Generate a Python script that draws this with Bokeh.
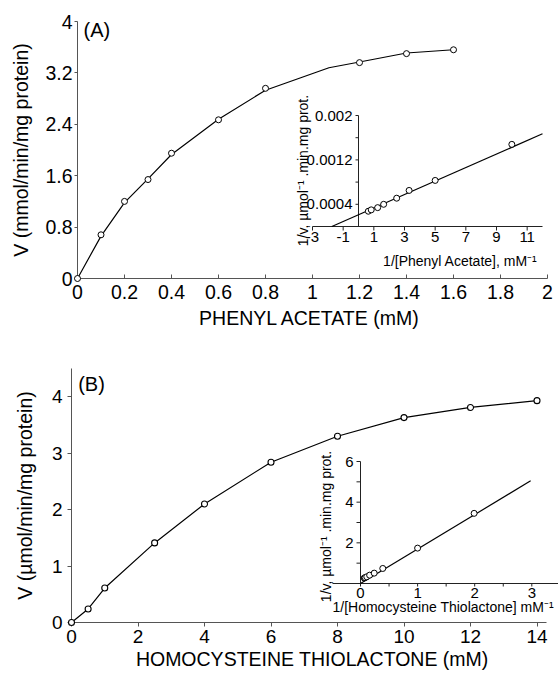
import math
from bokeh.plotting import figure
from bokeh.models import FixedTicker, Label, Range1d
from bokeh.core.properties import value
from bokeh.embed import file_html
from bokeh.resources import INLINE

FONT = "Liberation Sans"

# ---------------- data ----------------
# (A) phenyl acetate
pa_conc = [0, 0.1, 0.2, 0.3, 0.4, 0.6, 0.8, 1.2, 1.4, 1.6]
pa_rate = [0, 0.68, 1.20, 1.54, 1.95, 2.47, 2.96, 3.36, 3.50, 3.56]
pa_curve_x = [0, 0.1, 0.2, 0.3, 0.4, 0.6, 0.8, 1.07, 1.2, 1.4, 1.6]
pa_curve_y = [0, 0.66, 1.18, 1.55, 1.93, 2.48, 2.93, 3.28, 3.37, 3.51, 3.56]
pa_x_ticks = [0, 0.2, 0.4, 0.6, 0.8, 1, 1.2, 1.4, 1.6, 1.8, 2]
pa_x_labels = ["0", "0.2", "0.4", "0.6", "0.8", "1", "1.2", "1.4", "1.6", "1.8", "2"]
pa_y_ticks = [0, 0.8, 1.6, 2.4, 3.2, 4]
pa_y_labels = ["0", "0.8", "1.6", "2.4", "3.2", "4"]

# (A) inset: double reciprocal plot
pa_inv_s = [0.64, 0.83, 1.25, 1.64, 2.49, 3.3, 5.0, 10.0]
pa_inv_v = [0.000275, 0.0003, 0.00034, 0.0004, 0.00051, 0.00065, 0.00083, 0.00148]
pa_fit_x = [-1.74, 12]
pa_fit_y = [0.0, 0.00167]
pa_in_x_ticks = [-3, -1, 1, 3, 5, 7, 9, 11]
pa_in_x_labels = ["-3", "-1", "1", "3", "5", "7", "9", "11"]
pa_in_y_ticks = [0.0004, 0.0012, 0.002]
pa_in_y_labels = ["0.0004", "0.0012", "0.002"]
pa_in_y_minor = [0.0008, 0.0016]

# (B) homocysteine thiolactone
ht_conc = [0, 0.5, 1, 2.5, 4, 6, 8, 10, 12, 14]
ht_rate = [0, 0.24, 0.61, 1.41, 2.10, 2.84, 3.30, 3.63, 3.81, 3.93]
ht_x_ticks = [0, 2, 4, 6, 8, 10, 12, 14]
ht_y_ticks = [0, 1, 2, 3, 4]

# (B) inset
ht_inv_s = [0.065, 0.08, 0.11, 0.16, 0.24, 0.39, 1.0, 1.99]
ht_inv_v = [0.27, 0.29, 0.33, 0.41, 0.51, 0.74, 1.74, 3.45]
ht_fit_x = [0, 2.98]
ht_fit_y = [0.0, 5.05]
ht_in_x_ticks = [0, 1, 2, 3]
ht_in_x_labels = ["0", "1", "2", "3"]
ht_in_x_minor = [0.5, 1.5, 2.5]
ht_in_y_ticks = [2, 4, 6]
ht_in_y_labels = ["2", "4", "6"]
ht_in_y_minor = [1, 3, 5]

MAIN_AX = "#555555"
INSET_AX = "#222222"
TITLE_Y = "1/v, \u00b5mol\u207b\u00b9 .min.mg prot."


def lin(p0, v0, p1, v1, px):
    """page pixel -> data value on a linear axis through (p0, v0), (p1, v1)"""
    return v0 + (px - p0) * (v1 - v0) / (p1 - p0)


def base_fig(width, height, xr, yr, left, right, top, bottom):
    p = figure(width=width, height=height, x_range=xr, y_range=yr,
               output_backend="svg", toolbar_location=None, title=None,
               min_border_left=left, min_border_right=right,
               min_border_top=top, min_border_bottom=bottom)
    p.xgrid.visible = False
    p.ygrid.visible = False
    p.outline_line_color = None
    return p


def style_axis(ax, ticks, labels, size, tick_out, tick_in, standoff,
               title, title_size, title_standoff):
    ax.ticker = FixedTicker(ticks=ticks)
    if labels is not None:
        ax.major_label_overrides = {t: l for t, l in zip(ticks, labels)}
    ax.major_label_text_font = FONT
    ax.major_label_text_font_size = size
    ax.major_label_text_color = "#000000"
    ax.axis_line_color = MAIN_AX
    ax.major_tick_line_color = MAIN_AX
    ax.major_tick_out = tick_out
    ax.major_tick_in = tick_in
    ax.minor_tick_line_color = None
    ax.major_label_standoff = standoff
    ax.axis_label = title
    ax.axis_label_text_font = FONT
    ax.axis_label_text_font_size = title_size
    ax.axis_label_text_font_style = "normal"
    ax.axis_label_text_color = "#000000"
    ax.axis_label_standoff = title_standoff


def txt(p, xs, ys, texts, size, align, baseline, angle=0.0, xo=0, yo=0):
    p.text(x=xs, y=ys, text=texts, text_font=value(FONT), text_font_size=value(size),
           text_color="#000000", text_align=align, text_baseline=baseline,
           angle=angle, x_offset=xo, y_offset=yo, x_range_name="ix", y_range_name="iy")


def inset_axes(p, sx, sy, x_end, x_start, y_top, xt, xl, xm, yt, yl, ym,
               x_tick_len, y_tick_len, xo_lab, yo_lab):
    """Axes of an inset crossing at (0, 0); sx, sy = pixels per data unit."""
    kw = dict(line_color=INSET_AX, line_width=1, x_range_name="ix", y_range_name="iy")
    p.segment(x0=[x_start], y0=[0], x1=[x_end], y1=[0], **kw)
    p.segment(x0=[0], y0=[0], x1=[0], y1=[y_top], **kw)
    xall = list(xt) + list(xm)
    p.segment(x0=xall, y0=[0] * len(xall), x1=xall,
              y1=[-x_tick_len / sy] * len(xall), **kw)
    yall = list(yt) + list(ym)
    p.segment(x0=[0] * len(yall), y0=yall, x1=[-y_tick_len / sx] * len(yall),
              y1=yall, **kw)
    txt(p, xt, [0] * len(xt), xl, "15px", "center", "top", yo=yo_lab)
    txt(p, [0] * len(yt), yt, yl, "15px", "right", "middle", xo=-xo_lab)


W = 558
HA = 345
HB = 676 - HA

# ================= panel A =================
A_L, A_R, A_T, A_B = 77, 547, 21, 278          # frame edges (page px)
pA = base_fig(W, HA, Range1d(0, 2), Range1d(0, 4), A_L, W - A_R, A_T, HA - A_B)
style_axis(pA.xaxis[0], pa_x_ticks, pa_x_labels, "19.5px", 0, 4, 6,
           "PHENYL  ACETATE (mM)", "19.5px", 5)
style_axis(pA.yaxis[0], pa_y_ticks, pa_y_labels, "19.5px", 3, 0, 2,
           "V (mmol/min/mg protein)", "19.5px", 10)

# inset A geometry: x=-3 at 312 px, x=12 at 542 px; y=0 at 226 px, y=0.002 at 115 px
ax_ = lambda px: lin(312, -3, 542, 12, px)
ay_ = lambda py: lin(226, 0, 115, 0.002, py)
pA.extra_x_ranges = {"ix": Range1d(ax_(A_L), ax_(A_R))}
pA.extra_y_ranges = {"iy": Range1d(ay_(A_B), ay_(A_T))}
sxA, syA = 230 / 15, 111 / 0.002

pA.line(pa_curve_x, pa_curve_y, line_color="black", line_width=1.2)
rA = pA.scatter(pa_conc, pa_rate, marker="circle", size=6, fill_color="white",
                line_color="black", line_width=1)
rA.level = "overlay"
pA.add_layout(Label(x=0.026, y=3.875, text="(A)", text_font=FONT, text_font_size="20px",
                    text_color="#000000", text_align="left", text_baseline="alphabetic"))

inset_axes(pA, sxA, syA, 12, -3, 0.002, pa_in_x_ticks, pa_in_x_labels, [],
           pa_in_y_ticks, pa_in_y_labels, pa_in_y_minor, 4, 3, 6, 5)
pA.line(pa_fit_x, pa_fit_y, line_color="black", line_width=1.2,
        x_range_name="ix", y_range_name="iy")
pA.scatter(pa_inv_s, pa_inv_v, marker="circle", size=6, fill_color="white",
           line_color="black", line_width=1, x_range_name="ix", y_range_name="iy")
txt(pA, [ax_(302)], [ay_(170)], [TITLE_Y], "14px", "center", "alphabetic",
    angle=math.pi / 2)
txt(pA, [ax_(537)], [ay_(260)], ["1/[Phenyl Acetate], mM\u207b\u00b9"], "14px",
    "right", "alphabetic")

# ================= panel B =================
B_L, B_R, B_T, B_B = 71, 558, 368 - HA, 622 - HA   # frame edges (B figure px)
x_end_B = (B_R - B_L) / 33.25
pB = base_fig(W, HB, Range1d(0, x_end_B), Range1d(0, 4.5), B_L, W - B_R, B_T, HB - B_B)
style_axis(pB.xaxis[0], ht_x_ticks, None, "19px", 4, 0, 3,
           "HOMOCYSTEINE  THIOLACTONE (mM)", "19.5px", 2)
style_axis(pB.yaxis[0], ht_y_ticks, None, "19px", 4, 0, 5,
           "V (\u00b5mol/min/mg protein)", "19.5px", 13)
pB.xaxis.bounds = (0, 14.3)

# inset B geometry (page px): x=0 at 360, 57.1 px/unit; y=0 at 583, y=6 at 461
bx_ = lambda px: lin(360, 0, 417.1, 1, px)
by_ = lambda py: lin(583, 0, 461, 6, py + HA)   # py given in B-figure px
pB.extra_x_ranges = {"ix": Range1d(bx_(B_L), bx_(B_R))}
pB.extra_y_ranges = {"iy": Range1d(by_(B_B), by_(B_T))}
sxB, syB = 57.1, 122 / 6

pB.line(ht_conc, ht_rate, line_color="black", line_width=1.2)
rB = pB.scatter(ht_conc, ht_rate, marker="circle", size=6, fill_color="white",
                line_color="black", line_width=1.1)
rB.level = "overlay"
pB.add_layout(Label(x=0.2, y=4.218, text="(B)", text_font=FONT, text_font_size="20px",
                    text_color="#000000", text_align="left", text_baseline="alphabetic"))

inset_axes(pB, sxB, syB, bx_(B_R), bx_(332), 6, ht_in_x_ticks, ht_in_x_labels, ht_in_x_minor,
           ht_in_y_ticks, ht_in_y_labels, ht_in_y_minor, 3, 4, 7, 4)
pB.line(ht_fit_x, ht_fit_y, line_color="black", line_width=1.2,
        x_range_name="ix", y_range_name="iy")
pB.scatter(ht_inv_s, ht_inv_v, marker="circle", size=6, fill_color="white",
           line_color="black", line_width=1, x_range_name="ix", y_range_name="iy")
txt(pB, [bx_(325.5)], [by_(526 - HA)], [TITLE_Y], "14px", "center", "alphabetic",
    angle=math.pi / 2)
txt(pB, [bx_(332)], [by_(606 - HA)], ["1/[Homocysteine Thiolactone] mM\u207b\u00b9"],
    "14px", "left", "alphabetic")

open("out.html", "w").write(file_html([pA, pB], INLINE))
